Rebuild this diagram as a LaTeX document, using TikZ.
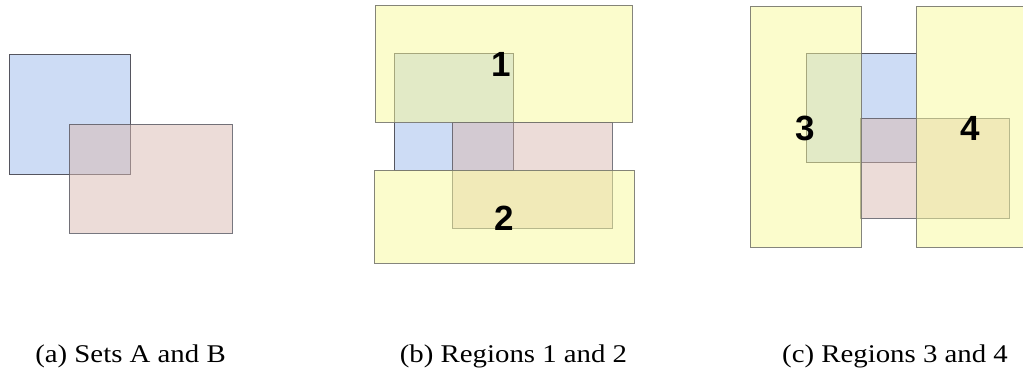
\documentclass[tikz,border=0pt]{standalone}
\usepackage{fontspec}
\setmainfont{Liberation Serif}
\newfontfamily\labelfont{Liberation Sans}

\definecolor{setblue}{RGB}{205,220,245}
\definecolor{setpink}{RGB}{217,185,177}
\definecolor{regionyellow}{RGB}{247,249,153}
\definecolor{setedge}{RGB}{85,85,95}
\definecolor{regionedge}{RGB}{120,120,110}

\tikzset{
	setA/.style={fill=setblue, draw=setedge, line width=0.9pt},
	setB/.style={fill=setpink, fill opacity=0.5, draw=setedge, draw opacity=0.8, line width=0.9pt},
	region/.style={fill=regionyellow, fill opacity=0.5, draw=regionedge, draw opacity=0.9, line width=0.9pt},
	regionlabel/.style={font=\labelfont\bfseries\fontsize{35}{35}\selectfont, inner sep=0pt},
	caption/.style={font=\fontsize{25.5}{25.5}\selectfont, inner sep=0pt}
}
% captions are set a little wide
\newcommand{\widecap}[1]{\scalebox{1.13}[1]{#1}}

\begin{document}
\begin{tikzpicture}[x=1pt,y=-1pt]
	\useasboundingbox (0,0) rectangle (1023,377);
	
	% (a) the two sets
	\draw[setA] (9,54) rectangle (130,174);
	\draw[setB] (69,124) rectangle (232,233);
	
	% (b) sets with regions 1 and 2
	\draw[setA] (394,53) rectangle (513,170);
	\draw[setB] (452,122) rectangle (612,228);
	\draw[region] (375,5) rectangle (632,122);
	\draw[region] (374,170) rectangle (634,263);
	\node[regionlabel] (r1) at (501,64) {1};
	\node[regionlabel] (r2) at (504,218) {2};
	
	% (c) sets with regions 3 and 4
	\draw[setA] (806,53) rectangle (916,162);
	\draw[setB] (860,118) rectangle (1009,218);
	\draw[region] (750,6) rectangle (861,247);
	\draw[region] (916,6) rectangle (1040,247); % runs off the right edge
	\node[regionlabel] (r3) at (805,128) {3};
	\node[regionlabel] (r4) at (970,128) {4};
	
	% captions
	\node[caption, anchor=base] (capa) at (130.5,362) {\widecap{(a) Sets A and B}};
	\node[caption, anchor=base] (capb) at (513.5,362) {\widecap{(b) Regions 1 and 2}};
	\node[caption, anchor=base] (capc) at (895,362) {\widecap{(c) Regions 3 and 4}};
\end{tikzpicture}
\end{document}
